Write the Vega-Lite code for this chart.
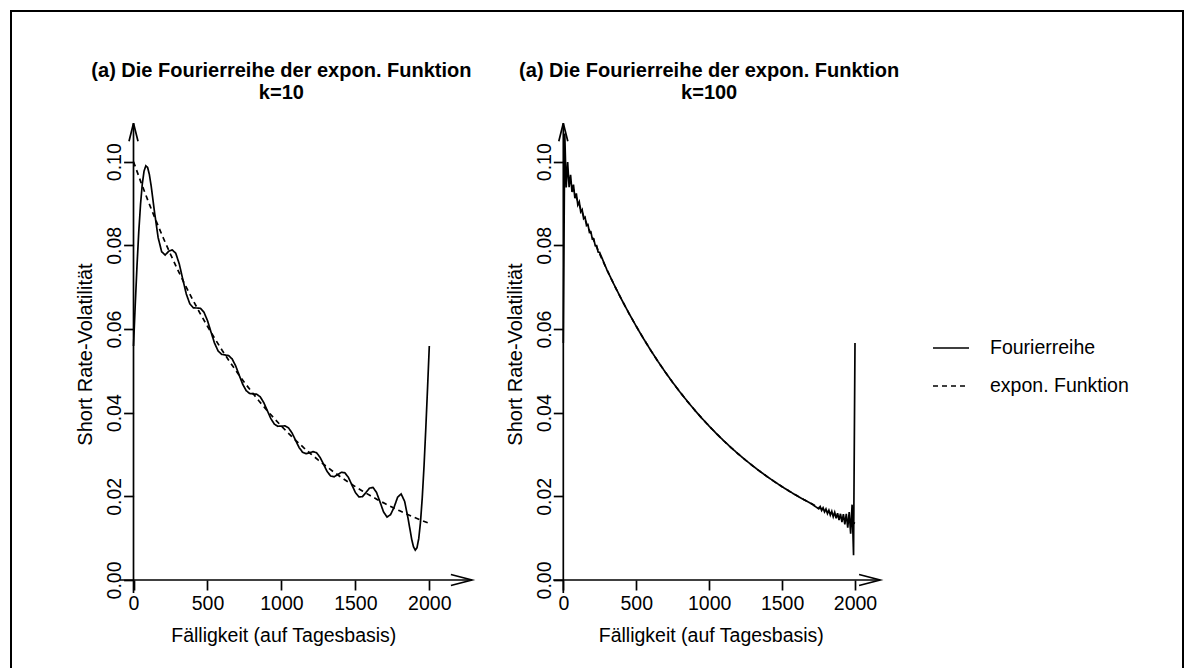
{
"$schema":"https://vega.github.io/schema/vega-lite/v6.json",
"width":1172,"height":662,
"autosize":{"type":"none"},
"padding":{"left":11,"top":11,"right":4,"bottom":-5},
"background":"white",
"config":{"font":"Liberation Sans","view":{"stroke":"black","strokeWidth":2},
 "axis":{"grid":false,"domain":false,"tickColor":"black","tickWidth":1.7,"labelColor":"black","titleColor":"black","titleFontWeight":"normal","labelFlush":false,"labelOverlap":false,"labelBound":false}},
"datasets":{
"expon":[
{"x":0,"y":0.1,"series":"expon. Funktion"},{"x":50,"y":0.095123,"series":"expon. Funktion"},{"x":100,"y":0.090484,"series":"expon. Funktion"},{"x":150,"y":0.086071,"series":"expon. Funktion"},{"x":200,"y":0.081873,"series":"expon. Funktion"},{"x":250,"y":0.07788,"series":"expon. Funktion"},{"x":300,"y":0.074082,"series":"expon. Funktion"},{"x":350,"y":0.070469,"series":"expon. Funktion"},{"x":400,"y":0.067032,"series":"expon. Funktion"},{"x":450,"y":0.063763,"series":"expon. Funktion"},{"x":500,"y":0.060653,"series":"expon. Funktion"},{"x":550,"y":0.057695,"series":"expon. Funktion"},{"x":600,"y":0.054881,"series":"expon. Funktion"},{"x":650,"y":0.052205,"series":"expon. Funktion"},{"x":700,"y":0.049659,"series":"expon. Funktion"},{"x":750,"y":0.047237,"series":"expon. Funktion"},{"x":800,"y":0.044933,"series":"expon. Funktion"},{"x":850,"y":0.042741,"series":"expon. Funktion"},{"x":900,"y":0.040657,"series":"expon. Funktion"},{"x":950,"y":0.038674,"series":"expon. Funktion"},{"x":1000,"y":0.036788,"series":"expon. Funktion"},{"x":1050,"y":0.034994,"series":"expon. Funktion"},{"x":1100,"y":0.033287,"series":"expon. Funktion"},{"x":1150,"y":0.031664,"series":"expon. Funktion"},{"x":1200,"y":0.030119,"series":"expon. Funktion"},{"x":1250,"y":0.02865,"series":"expon. Funktion"},{"x":1300,"y":0.027253,"series":"expon. Funktion"},{"x":1350,"y":0.025924,"series":"expon. Funktion"},{"x":1400,"y":0.02466,"series":"expon. Funktion"},{"x":1450,"y":0.023457,"series":"expon. Funktion"},{"x":1500,"y":0.022313,"series":"expon. Funktion"},{"x":1550,"y":0.021225,"series":"expon. Funktion"},{"x":1600,"y":0.02019,"series":"expon. Funktion"},{"x":1650,"y":0.019205,"series":"expon. Funktion"},{"x":1700,"y":0.018268,"series":"expon. Funktion"},{"x":1750,"y":0.017377,"series":"expon. Funktion"},{"x":1800,"y":0.01653,"series":"expon. Funktion"},{"x":1850,"y":0.015724,"series":"expon. Funktion"},{"x":1900,"y":0.014957,"series":"expon. Funktion"},{"x":1950,"y":0.014227,"series":"expon. Funktion"},{"x":2000,"y":0.013534,"series":"expon. Funktion"}
],
"fourier10":[
{"x":0,"y":0.05593,"series":"Fourierreihe"},{"x":11.9,"y":0.06592,"series":"Fourierreihe"},{"x":23.8,"y":0.07524,"series":"Fourierreihe"},{"x":35.7,"y":0.08331,"series":"Fourierreihe"},{"x":47.6,"y":0.08985,"series":"Fourierreihe"},{"x":59.5,"y":0.09471,"series":"Fourierreihe"},{"x":71.4,"y":0.09776,"series":"Fourierreihe"},{"x":83.3,"y":0.09902,"series":"Fourierreihe"},{"x":95.2,"y":0.09865,"series":"Fourierreihe"},{"x":107.1,"y":0.09696,"series":"Fourierreihe"},{"x":119,"y":0.09431,"series":"Fourierreihe"},{"x":142.9,"y":0.08772,"series":"Fourierreihe"},{"x":166.7,"y":0.08184,"series":"Fourierreihe"},{"x":190.5,"y":0.07846,"series":"Fourierreihe"},{"x":214.3,"y":0.0777,"series":"Fourierreihe"},{"x":238.1,"y":0.0786,"series":"Fourierreihe"},{"x":261.9,"y":0.07892,"series":"Fourierreihe"},{"x":285.7,"y":0.07811,"series":"Fourierreihe"},{"x":309.5,"y":0.07554,"series":"Fourierreihe"},{"x":333.3,"y":0.07187,"series":"Fourierreihe"},{"x":357.1,"y":0.06836,"series":"Fourierreihe"},{"x":381,"y":0.066,"series":"Fourierreihe"},{"x":404.8,"y":0.06505,"series":"Fourierreihe"},{"x":428.6,"y":0.06502,"series":"Fourierreihe"},{"x":452.4,"y":0.06496,"series":"Fourierreihe"},{"x":476.2,"y":0.06404,"series":"Fourierreihe"},{"x":500,"y":0.06203,"series":"Fourierreihe"},{"x":523.8,"y":0.05931,"series":"Fourierreihe"},{"x":547.6,"y":0.05666,"series":"Fourierreihe"},{"x":571.4,"y":0.0548,"series":"Fourierreihe"},{"x":595.2,"y":0.05395,"series":"Fourierreihe"},{"x":619,"y":0.0538,"series":"Fourierreihe"},{"x":642.9,"y":0.05364,"series":"Fourierreihe"},{"x":666.7,"y":0.05286,"series":"Fourierreihe"},{"x":690.5,"y":0.05121,"series":"Fourierreihe"},{"x":714.3,"y":0.04899,"series":"Fourierreihe"},{"x":738.1,"y":0.04681,"series":"Fourierreihe"},{"x":761.9,"y":0.04527,"series":"Fourierreihe"},{"x":785.7,"y":0.04458,"series":"Fourierreihe"},{"x":809.5,"y":0.04449,"series":"Fourierreihe"},{"x":833.3,"y":0.04441,"series":"Fourierreihe"},{"x":857.1,"y":0.04378,"series":"Fourierreihe"},{"x":881,"y":0.04239,"series":"Fourierreihe"},{"x":904.8,"y":0.04048,"series":"Fourierreihe"},{"x":928.6,"y":0.03859,"series":"Fourierreihe"},{"x":952.4,"y":0.03727,"series":"Fourierreihe"},{"x":976.2,"y":0.03675,"series":"Fourierreihe"},{"x":1000,"y":0.03679,"series":"Fourierreihe"},{"x":1023.8,"y":0.03685,"series":"Fourierreihe"},{"x":1047.6,"y":0.03639,"series":"Fourierreihe"},{"x":1071.4,"y":0.03518,"series":"Fourierreihe"},{"x":1095.2,"y":0.03344,"series":"Fourierreihe"},{"x":1119,"y":0.03171,"series":"Fourierreihe"},{"x":1142.9,"y":0.03055,"series":"Fourierreihe"},{"x":1166.7,"y":0.0302,"series":"Fourierreihe"},{"x":1190.5,"y":0.03043,"series":"Fourierreihe"},{"x":1214.3,"y":0.03069,"series":"Fourierreihe"},{"x":1238.1,"y":0.0304,"series":"Fourierreihe"},{"x":1261.9,"y":0.0293,"series":"Fourierreihe"},{"x":1285.7,"y":0.02761,"series":"Fourierreihe"},{"x":1309.5,"y":0.02592,"series":"Fourierreihe"},{"x":1333.3,"y":0.02485,"series":"Fourierreihe"},{"x":1357.1,"y":0.02468,"series":"Fourierreihe"},{"x":1381,"y":0.02519,"series":"Fourierreihe"},{"x":1404.8,"y":0.02574,"series":"Fourierreihe"},{"x":1428.6,"y":0.02564,"series":"Fourierreihe"},{"x":1452.4,"y":0.02457,"series":"Fourierreihe"},{"x":1476.2,"y":0.02277,"series":"Fourierreihe"},{"x":1500,"y":0.02094,"series":"Fourierreihe"},{"x":1523.8,"y":0.01986,"series":"Fourierreihe"},{"x":1547.6,"y":0.01993,"series":"Fourierreihe"},{"x":1571.4,"y":0.0209,"series":"Fourierreihe"},{"x":1595.2,"y":0.02195,"series":"Fourierreihe"},{"x":1619,"y":0.02214,"series":"Fourierreihe"},{"x":1642.9,"y":0.02095,"series":"Fourierreihe"},{"x":1666.7,"y":0.01867,"series":"Fourierreihe"},{"x":1690.5,"y":0.01628,"series":"Fourierreihe"},{"x":1714.3,"y":0.01505,"series":"Fourierreihe"},{"x":1738.1,"y":0.01563,"series":"Fourierreihe"},{"x":1761.9,"y":0.01739,"series":"Fourierreihe"},{"x":1785.7,"y":0.01979,"series":"Fourierreihe"},{"x":1809.5,"y":0.02058,"series":"Fourierreihe"},{"x":1833.3,"y":0.01879,"series":"Fourierreihe"},{"x":1857.1,"y":0.01458,"series":"Fourierreihe"},{"x":1881,"y":0.00972,"series":"Fourierreihe"},{"x":1892.9,"y":0.00795,"series":"Fourierreihe"},{"x":1904.8,"y":0.00715,"series":"Fourierreihe"},{"x":1916.7,"y":0.0077,"series":"Fourierreihe"},{"x":1928.6,"y":0.00989,"series":"Fourierreihe"},{"x":1940.5,"y":0.01388,"series":"Fourierreihe"},{"x":1952.4,"y":0.0197,"series":"Fourierreihe"},{"x":1964.3,"y":0.02721,"series":"Fourierreihe"},{"x":1976.2,"y":0.03614,"series":"Fourierreihe"},{"x":1988.1,"y":0.04583,"series":"Fourierreihe"},{"x":2000,"y":0.05593,"series":"Fourierreihe"}
],
"fourier100":[
{"x":0,"y":0.05668,"series":"Fourierreihe"},{"x":9.95,"y":0.10675,"series":"Fourierreihe"},{"x":19.9,"y":0.09383,"series":"Fourierreihe"},{"x":29.85,"y":0.09992,"series":"Fourierreihe"},{"x":39.8,"y":0.09393,"series":"Fourierreihe"},{"x":49.75,"y":0.09688,"series":"Fourierreihe"},{"x":59.7,"y":0.09275,"series":"Fourierreihe"},{"x":69.65,"y":0.09452,"series":"Fourierreihe"},{"x":79.6,"y":0.09126,"series":"Fourierreihe"},{"x":89.55,"y":0.09241,"series":"Fourierreihe"},{"x":99.5,"y":0.08966,"series":"Fourierreihe"},{"x":109.45,"y":0.09043,"series":"Fourierreihe"},{"x":119.4,"y":0.08802,"series":"Fourierreihe"},{"x":129.35,"y":0.08854,"series":"Fourierreihe"},{"x":139.3,"y":0.08637,"series":"Fourierreihe"},{"x":149.25,"y":0.08672,"series":"Fourierreihe"},{"x":159.2,"y":0.08473,"series":"Fourierreihe"},{"x":169.15,"y":0.08495,"series":"Fourierreihe"},{"x":179.1,"y":0.08312,"series":"Fourierreihe"},{"x":189.05,"y":0.08324,"series":"Fourierreihe"},{"x":199,"y":0.08152,"series":"Fourierreihe"},{"x":208.95,"y":0.08156,"series":"Fourierreihe"},{"x":218.9,"y":0.07994,"series":"Fourierreihe"},{"x":228.85,"y":0.07993,"series":"Fourierreihe"},{"x":238.8,"y":0.07839,"series":"Fourierreihe"},{"x":248.75,"y":0.07833,"series":"Fourierreihe"},
{"x":300,"y":0.074082,"series":"Fourierreihe"},{"x":350,"y":0.070469,"series":"Fourierreihe"},{"x":400,"y":0.067032,"series":"Fourierreihe"},{"x":450,"y":0.063763,"series":"Fourierreihe"},{"x":500,"y":0.060653,"series":"Fourierreihe"},{"x":550,"y":0.057695,"series":"Fourierreihe"},{"x":600,"y":0.054881,"series":"Fourierreihe"},{"x":650,"y":0.052205,"series":"Fourierreihe"},{"x":700,"y":0.049659,"series":"Fourierreihe"},{"x":750,"y":0.047237,"series":"Fourierreihe"},{"x":800,"y":0.044933,"series":"Fourierreihe"},{"x":850,"y":0.042741,"series":"Fourierreihe"},{"x":900,"y":0.040657,"series":"Fourierreihe"},{"x":950,"y":0.038674,"series":"Fourierreihe"},{"x":1000,"y":0.036788,"series":"Fourierreihe"},{"x":1050,"y":0.034994,"series":"Fourierreihe"},{"x":1100,"y":0.033287,"series":"Fourierreihe"},{"x":1150,"y":0.031664,"series":"Fourierreihe"},{"x":1200,"y":0.030119,"series":"Fourierreihe"},{"x":1250,"y":0.02865,"series":"Fourierreihe"},{"x":1300,"y":0.027253,"series":"Fourierreihe"},{"x":1350,"y":0.025924,"series":"Fourierreihe"},{"x":1400,"y":0.02466,"series":"Fourierreihe"},{"x":1450,"y":0.023457,"series":"Fourierreihe"},{"x":1500,"y":0.022313,"series":"Fourierreihe"},{"x":1550,"y":0.021225,"series":"Fourierreihe"},{"x":1600,"y":0.02019,"series":"Fourierreihe"},{"x":1650,"y":0.019205,"series":"Fourierreihe"},{"x":1700,"y":0.018268,"series":"Fourierreihe"},
{"x":1751.25,"y":0.01701,"series":"Fourierreihe"},{"x":1761.2,"y":0.01755,"series":"Fourierreihe"},{"x":1771.15,"y":0.01664,"series":"Fourierreihe"},{"x":1781.1,"y":0.01725,"series":"Fourierreihe"},{"x":1791.05,"y":0.01627,"series":"Fourierreihe"},{"x":1801,"y":0.01696,"series":"Fourierreihe"},{"x":1810.95,"y":0.01589,"series":"Fourierreihe"},{"x":1820.9,"y":0.01668,"series":"Fourierreihe"},{"x":1830.85,"y":0.01552,"series":"Fourierreihe"},{"x":1840.8,"y":0.01642,"series":"Fourierreihe"},{"x":1850.75,"y":0.01513,"series":"Fourierreihe"},{"x":1860.7,"y":0.01619,"series":"Fourierreihe"},{"x":1870.65,"y":0.01473,"series":"Fourierreihe"},{"x":1880.6,"y":0.01598,"series":"Fourierreihe"},{"x":1890.55,"y":0.01431,"series":"Fourierreihe"},{"x":1900.5,"y":0.01583,"series":"Fourierreihe"},{"x":1910.45,"y":0.01383,"series":"Fourierreihe"},{"x":1920.4,"y":0.01575,"series":"Fourierreihe"},{"x":1930.35,"y":0.01327,"series":"Fourierreihe"},{"x":1940.3,"y":0.01582,"series":"Fourierreihe"},{"x":1950.25,"y":0.01249,"series":"Fourierreihe"},{"x":1960.2,"y":0.01625,"series":"Fourierreihe"},{"x":1970.15,"y":0.01108,"series":"Fourierreihe"},{"x":1980.1,"y":0.01801,"series":"Fourierreihe"},{"x":1990.05,"y":0.00593,"series":"Fourierreihe"},{"x":2000,"y":0.05668,"series":"Fourierreihe"}
]
},
"layer":[
{"layer":[
 {"data":{"name":"expon"},"mark":{"type":"line","color":"black","strokeWidth":1.7},
  "encoding":{
   "x":{"field":"x","type":"quantitative","scale":{"domain":[-828.3,7096.0],"nice":false,"zero":false},
        "axis":{"orient":"bottom","offset":-93,"values":[0,500,1000,1500,2000],"format":"d","tickSize":10,"labelPadding":4,"labelFontSize":19.5,"labelAngle":0,"labelAlign":"center","labelBaseline":"top","title":"Fälligkeit (auf Tagesbasis)","titleFontSize":19.5,"titleX":272.3,"titleY":61.7,"titleAlign":"center","titleBaseline":"alphabetic","titleAngle":0}},
   "y":{"field":"y","type":"quantitative","scale":{"domain":[-0.022233,0.136027],"nice":false,"zero":false},
        "axis":{"orient":"left","offset":-122.6,"values":[0,0.02,0.04,0.06,0.08,0.1],"format":".2f","tickSize":10,"labelPadding":9,"labelFontSize":19.5,"labelAngle":270,"labelAlign":"center","labelBaseline":"middle","title":"Short Rate-Volatilität","titleFontSize":20,"titleAngle":270,"titleX":-41.9,"titleY":343,"titleAlign":"center","titleBaseline":"alphabetic"}},
   "strokeDash":{"field":"series","type":"nominal","scale":{"domain":["Fourierreihe","expon. Funktion"],"range":[[1,0],[5,4]]},
        "legend":{"orient":"none","legendX":921,"legendY":318,"title":null,"symbolType":"stroke","symbolSize":1296,"symbolStrokeWidth":1.7,"symbolStrokeColor":"black","labelFontSize":19.5,"labelColor":"black","labelOffset":20,"rowPadding":9,"padding":0}}
  }},
 {"data":{"name":"fourier10"},"mark":{"type":"line","color":"black","strokeWidth":1.7},
  "encoding":{
   "x":{"field":"x","type":"quantitative","scale":{"domain":[-828.3,7096.0],"nice":false,"zero":false},
        "axis":{"orient":"bottom","offset":-93,"values":[0,500,1000,1500,2000],"format":"d","tickSize":10,"labelPadding":4,"labelFontSize":19.5,"labelAngle":0,"labelAlign":"center","labelBaseline":"top","title":"Fälligkeit (auf Tagesbasis)","titleFontSize":19.5,"titleX":272.3,"titleY":61.7,"titleAlign":"center","titleBaseline":"alphabetic","titleAngle":0}},
   "y":{"field":"y","type":"quantitative","scale":{"domain":[-0.022233,0.136027],"nice":false,"zero":false},
        "axis":{"orient":"left","offset":-122.6,"values":[0,0.02,0.04,0.06,0.08,0.1],"format":".2f","tickSize":10,"labelPadding":9,"labelFontSize":19.5,"labelAngle":270,"labelAlign":"center","labelBaseline":"middle","title":"Short Rate-Volatilität","titleFontSize":20,"titleAngle":270,"titleX":-41.9,"titleY":343,"titleAlign":"center","titleBaseline":"alphabetic"}},
   "strokeDash":{"field":"series","type":"nominal","scale":{"domain":["Fourierreihe","expon. Funktion"],"range":[[1,0],[5,4]]}}
  }},
 {"data":{"values":[{}]},"mark":{"type":"rule","color":"black","strokeWidth":1.7},
  "encoding":{"x":{"datum":-92,"scale":{"domain":[-828.3,7096.0],"nice":false,"zero":false}},"x2":{"datum":2288},
   "y":{"datum":0,"scale":{"domain":[-0.022233,0.136027],"nice":false,"zero":false}}}},
 {"data":{"values":[{}]},"mark":{"type":"rule","color":"black","strokeWidth":1.7},
  "encoding":{"x":{"datum":0,"scale":{"domain":[-828.3,7096.0],"nice":false,"zero":false}},
   "y":{"datum":-0.0031,"scale":{"domain":[-0.022233,0.136027],"nice":false,"zero":false}},"y2":{"datum":0.1092}}},
 {"data":{"values":[{}]},"mark":{"type":"point","shape":"M-1,-0.26L0,0L-1,0.26","size":1764,"filled":false,"color":"black","strokeWidth":1.7,"opacity":1},
  "encoding":{"x":{"datum":2288,"scale":{"domain":[-828.3,7096.0],"nice":false,"zero":false}},
   "y":{"datum":0,"scale":{"domain":[-0.022233,0.136027],"nice":false,"zero":false}}}},
 {"data":{"values":[{}]},"mark":{"type":"point","shape":"M-0.25,1L0,0L0.25,1","size":1296,"filled":false,"color":"black","strokeWidth":1.7,"opacity":1},
  "encoding":{"x":{"datum":0,"scale":{"domain":[-828.3,7096.0],"nice":false,"zero":false}},
   "y":{"datum":0.1092,"scale":{"domain":[-0.022233,0.136027],"nice":false,"zero":false}}}},
 {"data":{"values":[{"title":"(a) Die Fourierreihe der expon. Funktion\nk=10"}]},
  "mark":{"type":"text","fontWeight":"bold","fontSize":20,"align":"center","baseline":"alphabetic","lineBreak":"\n","lineHeight":22,"color":"black"},
  "encoding":{"x":{"datum":1000,"scale":{"domain":[-828.3,7096.0],"nice":false,"zero":false}},
   "y":{"datum":0.12013,"scale":{"domain":[-0.022233,0.136027],"nice":false,"zero":false}},
   "text":{"field":"title"}}}
]},
{"layer":[
 {"data":{"name":"expon"},"mark":{"type":"line","color":"black","strokeWidth":1.7},
  "encoding":{
   "x":{"field":"x","type":"quantitative","scale":{"domain":[-3786.8,4248.9],"nice":false,"zero":false},
        "axis":{"orient":"bottom","offset":-93,"values":[0,500,1000,1500,2000],"format":"d","tickSize":10,"labelPadding":4,"labelFontSize":19.5,"labelAngle":0,"labelAlign":"center","labelBaseline":"top","title":"Fälligkeit (auf Tagesbasis)","titleFontSize":19.5,"titleX":699.8,"titleY":61.7,"titleAlign":"center","titleBaseline":"alphabetic","titleAngle":0}},
   "y":{"field":"y","type":"quantitative","scale":{"domain":[-0.022233,0.136027],"nice":false,"zero":false},
        "axis":{"orient":"left","offset":-552.3,"values":[0,0.02,0.04,0.06,0.08,0.1],"format":".2f","tickSize":10,"labelPadding":9,"labelFontSize":19.5,"labelAngle":270,"labelAlign":"center","labelBaseline":"middle","title":"Short Rate-Volatilität","titleFontSize":20,"titleAngle":270,"titleX":-41.9,"titleY":343,"titleAlign":"center","titleBaseline":"alphabetic"}},
   "strokeDash":{"field":"series","type":"nominal","scale":{"domain":["Fourierreihe","expon. Funktion"],"range":[[1,0],[5,4]]}}
  }},
 {"data":{"name":"fourier100"},"mark":{"type":"line","color":"black","strokeWidth":1.7},
  "encoding":{
   "x":{"field":"x","type":"quantitative","scale":{"domain":[-3786.8,4248.9],"nice":false,"zero":false},
        "axis":{"orient":"bottom","offset":-93,"values":[0,500,1000,1500,2000],"format":"d","tickSize":10,"labelPadding":4,"labelFontSize":19.5,"labelAngle":0,"labelAlign":"center","labelBaseline":"top","title":"Fälligkeit (auf Tagesbasis)","titleFontSize":19.5,"titleX":699.8,"titleY":61.7,"titleAlign":"center","titleBaseline":"alphabetic","titleAngle":0}},
   "y":{"field":"y","type":"quantitative","scale":{"domain":[-0.022233,0.136027],"nice":false,"zero":false},
        "axis":{"orient":"left","offset":-552.3,"values":[0,0.02,0.04,0.06,0.08,0.1],"format":".2f","tickSize":10,"labelPadding":9,"labelFontSize":19.5,"labelAngle":270,"labelAlign":"center","labelBaseline":"middle","title":"Short Rate-Volatilität","titleFontSize":20,"titleAngle":270,"titleX":-41.9,"titleY":343,"titleAlign":"center","titleBaseline":"alphabetic"}},
   "strokeDash":{"field":"series","type":"nominal","scale":{"domain":["Fourierreihe","expon. Funktion"],"range":[[1,0],[5,4]]}}
  }},
 {"data":{"values":[{}]},"mark":{"type":"rule","color":"black","strokeWidth":1.7},
  "encoding":{"x":{"datum":-69,"scale":{"domain":[-3786.8,4248.9],"nice":false,"zero":false}},"x2":{"datum":2172},
   "y":{"datum":0,"scale":{"domain":[-0.022233,0.136027],"nice":false,"zero":false}}}},
 {"data":{"values":[{}]},"mark":{"type":"rule","color":"black","strokeWidth":1.7},
  "encoding":{"x":{"datum":0,"scale":{"domain":[-3786.8,4248.9],"nice":false,"zero":false}},
   "y":{"datum":-0.0031,"scale":{"domain":[-0.022233,0.136027],"nice":false,"zero":false}},"y2":{"datum":0.1092}}},
 {"data":{"values":[{}]},"mark":{"type":"point","shape":"M-1,-0.26L0,0L-1,0.26","size":1764,"filled":false,"color":"black","strokeWidth":1.7,"opacity":1},
  "encoding":{"x":{"datum":2172,"scale":{"domain":[-3786.8,4248.9],"nice":false,"zero":false}},
   "y":{"datum":0,"scale":{"domain":[-0.022233,0.136027],"nice":false,"zero":false}}}},
 {"data":{"values":[{}]},"mark":{"type":"point","shape":"M-0.25,1L0,0L0.25,1","size":1296,"filled":false,"color":"black","strokeWidth":1.7,"opacity":1},
  "encoding":{"x":{"datum":0,"scale":{"domain":[-3786.8,4248.9],"nice":false,"zero":false}},
   "y":{"datum":0.1092,"scale":{"domain":[-0.022233,0.136027],"nice":false,"zero":false}}}},
 {"data":{"values":[{"title":"(a) Die Fourierreihe der expon. Funktion\nk=100"}]},
  "mark":{"type":"text","fontWeight":"bold","fontSize":20,"align":"center","baseline":"alphabetic","lineBreak":"\n","lineHeight":22,"color":"black"},
  "encoding":{"x":{"datum":1000,"scale":{"domain":[-3786.8,4248.9],"nice":false,"zero":false}},
   "y":{"datum":0.12013,"scale":{"domain":[-0.022233,0.136027],"nice":false,"zero":false}},
   "text":{"field":"title"}}}
]}
],
"resolve":{"scale":{"x":"independent","y":"independent"}}
}
